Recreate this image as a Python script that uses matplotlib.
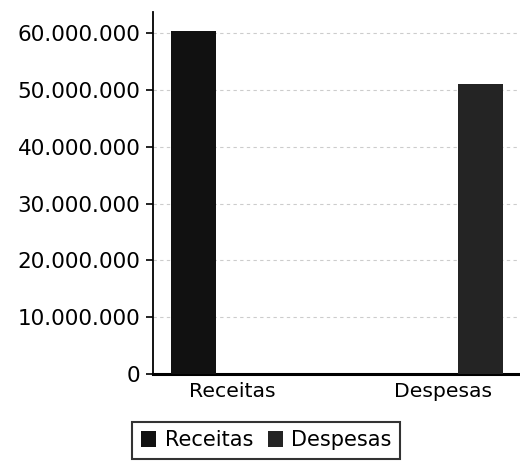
import numpy as np
import matplotlib
matplotlib.use("Agg")
import matplotlib.pyplot as plt
from matplotlib.ticker import FuncFormatter

categories = ["Receitas", "Despesas"]
series_names = ["Receitas", "Despesas"]
receitas = [60300000, 0]
despesas = [0, 51000000]
colors = ["#111111", "#242424"]
y_ticks = [0, 10000000, 20000000, 30000000, 40000000, 50000000, 60000000]


def fmt_br(v, pos=None):
    return f"{int(v):,}".replace(",", ".")


def main():
    plt.rcParams["font.family"] = ["DejaVu Sans"]
    fig = plt.figure(figsize=(5.2, 4.68), dpi=100)
    ax = fig.add_axes([0.294, 0.201, 0.706, 0.773])

    x = np.arange(len(categories))
    width = 0.213
    offset = 0.18
    ax.bar(x - offset, receitas, width, color=colors[0], label=series_names[0], zorder=3)
    ax.bar(x + offset, despesas, width, color=colors[1], label=series_names[1], zorder=3)

    ax.set_xlim(-0.374, 1.365)
    ax.set_ylim(0, 63700000)
    ax.set_yticks(y_ticks)
    ax.yaxis.set_major_formatter(FuncFormatter(fmt_br))
    ax.set_xticks(x)
    ax.set_xticklabels(categories)
    ax.tick_params(axis="y", labelsize=15.5, length=5, width=1.2, direction="out", pad=4)
    ax.tick_params(axis="x", labelsize=14.7, length=0, pad=6)
    ax.grid(axis="y", linestyle=(0, (3, 3)), color="#cccccc", linewidth=0.8, zorder=0)

    ax.spines["top"].set_visible(False)
    ax.spines["right"].set_visible(False)
    ax.spines["left"].set_linewidth(1.3)
    ax.spines["bottom"].set_linewidth(2.2)

    leg = fig.legend(loc="lower center", bbox_to_anchor=(0.512, 0.02), ncol=2,
                     fontsize=15, frameon=True, fancybox=False, edgecolor="black",
                     handlelength=0.75, handleheight=0.75, handletextpad=0.4,
                     columnspacing=0.7, borderpad=0.4, borderaxespad=0)
    leg.get_frame().set_linewidth(1.5)

    fig.savefig("out.png", dpi=100)
    plt.close(fig)


if __name__ == "__main__":
    main()
